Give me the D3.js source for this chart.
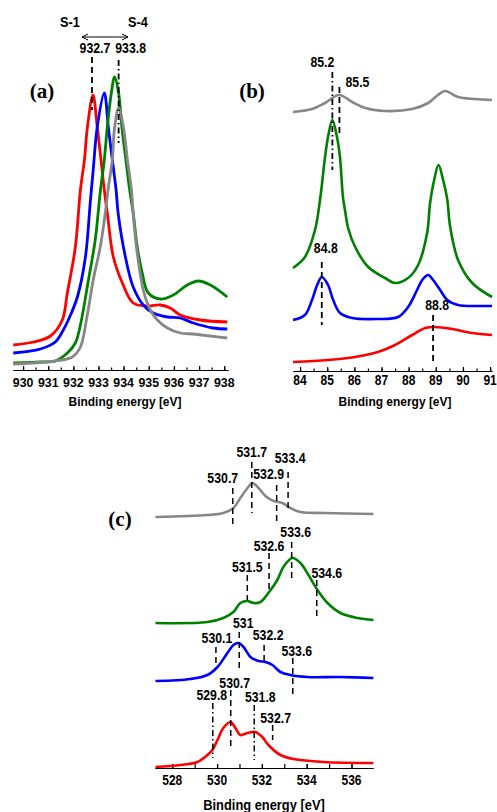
<!DOCTYPE html>
<html>
<head>
<meta charset="utf-8">
<script src="https://cdn.jsdelivr.net/npm/d3@7"></script>
<style>
  body { margin: 0; background: #fff; }
  svg { display: block; }
</style>
</head>
<body>
<div class="chart"></div>
<script>
// ---------- data (binding energy [eV], intensity a.u.) ----------

// panel (a)
var aTicks = [930, 931, 932, 933, 934, 935, 936, 937, 938];
var aRed = [[929.61,25],[930.41,28],[931.09,34],[931.56,50],[931.76,77],[932.08,123],[932.28,180],[932.44,210],[932.56,243],[932.78,275],[932.95,243],[933.10,210],[933.23,180],[933.35,157],[933.59,113],[933.95,87],[934.38,67],[934.94,64],[935.46,65],[935.85,62],[936.25,55],[937.05,50],[938.12,48]];
var aBlue = [[929.61,17],[930.69,21],[931.28,28],[931.60,40],[931.80,50],[932.16,73],[932.48,113],[932.68,170],[932.79,200],[932.95,243],[933.23,277],[933.39,243],[933.55,210],[933.70,180],[933.78,157],[934.07,113],[934.38,83],[934.78,65],[935.18,57],[935.74,53],[936.25,52],[936.77,47],[937.56,42],[938.12,41]];
var aGreen = [[929.61,7],[930.69,8],[931.28,9],[931.76,17],[932.08,27],[932.28,45],[932.60,90],[932.87,130],[933.07,178],[933.23,210],[933.35,243],[933.51,277],[933.64,293],[933.80,277],[933.93,243],[934.09,210],[934.24,180],[934.38,157],[934.54,123],[934.74,97],[934.98,77],[935.46,71],[935.98,75],[936.53,85],[936.97,89],[937.45,85],[938.12,73]];
var aGray = [[929.61,6],[931.28,9],[931.96,13],[932.28,23],[932.54,53],[932.79,90],[933.07,123],[933.27,157],[933.39,182],[933.55,210],[933.63,240],[933.80,262],[933.99,243],[934.15,210],[934.31,180],[934.40,150],[934.54,117],[934.78,80],[935.06,60],[935.34,50],[935.74,42],[936.25,37],[936.77,36],[937.45,34],[938.12,32]];
var aMarks = [932.74, 933.80];
var aMarkText = ["932.7", "933.8"];

// panel (b)
var bTicks = [84, 85, 86, 87, 88, 89, 90, 91];
var bGray = [[83.74,259],[84.44,262],[84.92,268],[85.44,276],[85.92,269],[86.40,263],[87.13,260],[88.13,262],[88.72,268],[89.08,276],[89.34,280],[89.82,274],[90.45,272],[91.07,271]];
var bGreen = [[83.74,103],[84.18,114],[84.55,141],[84.74,172],[84.92,214],[85.03,234],[85.19,251],[85.36,234],[85.47,214],[85.58,174],[85.66,160],[85.77,143],[86.03,124],[86.51,104],[87.13,93],[87.50,88],[87.98,93],[88.35,106],[88.68,138],[88.79,168],[88.94,191],[89.10,206],[89.27,191],[89.42,172],[89.53,144],[89.82,111],[90.34,88],[91.07,74]];
var bBlue = [[83.74,51],[84.18,56],[84.44,71],[84.63,86],[84.80,94],[85.03,86],[85.22,71],[85.47,58],[85.92,53],[86.87,52],[87.61,54],[87.98,64],[88.31,81],[88.50,91],[88.72,96],[88.90,91],[89.16,81],[89.42,71],[89.82,66],[90.56,65],[91.07,65]];
var bRed = [[83.74,9],[85.03,11],[86.03,14],[86.87,19],[87.50,26],[88.13,36],[88.61,43],[88.97,44],[89.60,42],[90.34,38],[91.07,36]];
var bMarks = [85.19, 85.45, 84.80, 88.90];
var bMarkText = ["85.2", "85.5", "84.8", "88.8"];

// panel (c)
var cTicks = [528, 530, 532, 534, 536];
var cMinor = [528, 529, 530, 531, 532, 533, 534, 535, 536];
var cGray = [[527.25,251],[529.57,253],[530.28,255],[530.73,260],[531.04,270],[531.36,280],[531.58,285],[531.85,280],[532.16,272],[532.52,267],[532.92,265],[533.27,260],[533.72,256],[534.75,255],[536.98,254]];
var cGreen = [[527.25,145],[529.57,146],[530.28,150],[530.73,156],[531.04,165],[531.36,167],[531.62,165],[531.94,166],[532.29,175],[532.69,188],[532.96,201],[533.36,210],[533.72,205],[534.08,193],[534.48,178],[534.93,165],[535.51,155],[536.26,150],[536.98,148]];
var cBlue = [[527.25,87],[528.81,89],[529.57,93],[530.02,101],[530.46,115],[530.73,123],[530.95,125],[531.18,121],[531.49,111],[531.85,107],[532.16,106],[532.47,103],[532.83,96],[533.27,93],[534.03,91],[535.50,91],[536.98,90]];
var cRed = [[527.25,1],[528.37,3],[529.12,6],[529.57,13],[529.79,18],[530.02,28],[530.28,40],[530.60,46],[530.82,40],[531.04,33],[531.36,35],[531.71,36],[532.02,31],[532.29,23],[532.83,13],[533.41,9],[534.75,6],[536.98,5]];
var cGrayMarks = [530.70, 531.55, 532.66, 533.17];
var cGrayText = ["530.7", "531.7", "532.9", "533.4"];
var cGreenMarks = [531.35, 532.32, 533.33, 534.45];
var cGreenText = ["531.5", "532.6", "533.6", "534.6"];
var cBlueMarks = [529.95, 530.99, 532.10, 533.38];
var cBlueText = ["530.1", "531", "532.2", "533.6"];
var cRedMarks = [529.81, 530.61, 531.66, 532.48];
var cRedText = ["529.8", "530.7", "531.8", "532.7"];

// ---------- drawing ----------
var RED = "#ff0000", BLUE = "#0000ff", GREEN = "#008000", GRAY = "#878787";
var SANS = "'Liberation Sans', Arial, sans-serif";
var SERIF = "'Liberation Serif', 'Times New Roman', serif";

var svg = d3.select(".chart")
    .append("svg")
    .attr("width", 497)
    .attr("height", 812);

// bold, slightly condensed text like the figure
function txt(x, y, s, size, sx, family) {
    svg.append("text")
        .attr("transform", `translate(${x},${y}) scale(${sx},1)`)
        .attr("text-anchor", "middle")
        .attr("font-family", family || SANS)
        .attr("font-weight", "bold")
        .attr("font-size", size)
        .attr("fill", "#000")
        .text(s);
}

function curve(x, y, pts, color, w) {
    var line = d3.line()
        .x(d => x(d[0]))
        .y(d => y(d[1]))
        .curve(d3.curveCatmullRom.alpha(0.5));
    svg.append("path")
        .datum(pts)
        .attr("d", line)
        .attr("fill", "none")
        .attr("stroke", color)
        .attr("stroke-width", w)
        .attr("stroke-linejoin", "round");
}

function axis(x, y0, major, minor, bigTick, smallTick) {
    var g = svg.append("g").attr("transform", `translate(0,${y0})`);
    g.append("g").call(d3.axisBottom(x).tickValues(minor).tickSizeInner(-smallTick).tickSizeOuter(0).tickFormat(""));
    g.append("g").call(d3.axisBottom(x).tickValues(major).tickSizeInner(-bigTick).tickSizeOuter(0).tickFormat(""));
    g.selectAll("path, line").attr("stroke", "#000").attr("stroke-width", 1.2);
}

// guide line from intensity i1 down to i2
function guide(x, y, v, i1, i2, dash, w) {
    svg.append("line")
        .attr("x1", x(v)).attr("x2", x(v))
        .attr("y1", y(i1)).attr("y2", y(i2))
        .attr("stroke", "#000")
        .attr("stroke-width", w)
        .attr("stroke-dasharray", dash);
}

var DASH = "6,4";
var DASHDOT = "6,3,1.5,3";

// ----- panel (a) -----
var xA = d3.scaleLinear().domain([929.6, 938.15]).range([13, 228]);
var yA = d3.scaleLinear().domain([0, 300]).range([370, 70]);

axis(xA, 370, aTicks, d3.range(929.5, 938.01, 0.5).filter(v => v >= 929.6), 4, 2.5);
aTicks.forEach(v => txt(xA(v), 386.5, v, 13, 0.95));
txt(125, 406, "Binding energy [eV]", 13, 0.92);

curve(xA, yA, aRed, RED, 2.8);
curve(xA, yA, aBlue, BLUE, 2.8);
curve(xA, yA, aGreen, GREEN, 2.8);
curve(xA, yA, aGray, GRAY, 2.8);

// marker lines + labels
var aLay = [{top: 313, bot: 260, dx: 3, ty: 317, dash: DASH},
            {top: 310, bot: 227, dx: 12, ty: 317, dash: DASHDOT}];
aMarks.forEach(function(v, i) {
    guide(xA, yA, v, aLay[i].top, aLay[i].bot, aLay[i].dash, 1.8);
    txt(xA(v) + aLay[i].dx, yA(aLay[i].ty), aMarkText[i], 15, 0.82);
});
txt(70, 26.5, "S-1", 15, 0.85);
txt(138, 26.5, "S-4", 15, 0.85);
// double arrow S-1 <-> S-4
svg.append("line").attr("x1", 82).attr("x2", 128).attr("y1", 37).attr("y2", 37)
    .attr("stroke", "#000").attr("stroke-width", 1);
svg.append("path").attr("d", "M88,34 L82,37 L88,40 M122,34 L128,37 L122,40")
    .attr("fill", "none").attr("stroke", "#000").attr("stroke-width", 1);
txt(42, 98, "(a)", 21, 1.0, SERIF);

// ----- panel (b) -----
var xB = d3.scaleLinear().domain([83.74, 91.07]).range([293, 492]);
var yB = d3.scaleLinear().domain([0, 300]).range([371, 71]);

axis(xB, 371, bTicks, d3.range(84, 91.01, 0.5), 4, 2.5);
bTicks.forEach(v => txt(xB(v), 385, v, 14, 0.86));
txt(395, 406, "Binding energy [eV]", 13, 0.92);

curve(xB, yB, bGray, GRAY, 2.6);
curve(xB, yB, bGreen, GREEN, 2.6);
curve(xB, yB, bBlue, BLUE, 2.6);
curve(xB, yB, bRed, RED, 2.6);

var bLay = [{top: 299, bot: 201, dx: -10, ty: 304, dash: DASHDOT},
            {top: 284, bot: 238, dx: 18, ty: 284, dash: DASH},
            {top: 109, bot: 46, dx: 4, ty: 118, dash: DASH},
            {top: 56, bot: 8, dx: 4, ty: 61, dash: DASH}];
bMarks.forEach(function(v, i) {
    guide(xB, yB, v, bLay[i].top, bLay[i].bot, bLay[i].dash, 1.8);
    txt(xB(v) + bLay[i].dx, yB(bLay[i].ty), bMarkText[i], 15, 0.82);
});
txt(252, 98, "(b)", 21, 1.0, SERIF);

// ----- panel (c) -----
var xC = d3.scaleLinear().domain([527.23, 536.96]).range([155, 373]);
var yC = d3.scaleLinear().domain([0, 300]).range([768, 468]);

axis(xC, 768, cTicks, cMinor, 4, 4);
cTicks.forEach(v => txt(xC(v), 785, v, 15, 0.8));
txt(264, 810, "Binding energy [eV]", 14, 0.92);

curve(xC, yC, cGray, GRAY, 2.6);
curve(xC, yC, cGreen, GREEN, 2.6);
curve(xC, yC, cBlue, BLUE, 2.6);
curve(xC, yC, cRed, RED, 2.6);

function marks(vals, texts, lay) {
    vals.forEach(function(v, i) {
        guide(xC, yC, v, lay[i][0], lay[i][1], lay[i][4] || DASH, 1.5);
        txt(xC(v) + lay[i][2], yC(lay[i][3]), texts[i], 15, 0.82);
    });
}
// [top, bottom, label dx, label baseline]
marks(cGrayMarks, cGrayText, [[280, 243, -10, 285], [306, 255, 0, 311], [283, 245, -8, 289], [296, 258, 2, 305]]);
marks(cGreenMarks, cGreenText, [[193, 168, 0, 196], [215, 175, 0, 217], [226, 188, 4, 231], [188, 149, 10, 190]]);
marks(cBlueMarks, cBlueText, [[121, 101, 1, 125], [136, 100, 4, 140], [123, 103, 4, 128], [110, 71, 4, 112]]);
marks(cRedMarks, cRedText, [[65, 10, -1, 68, DASHDOT], [78, 18, 4, 80], [63, 8, 6, 66, DASHDOT], [43, 28, 3, 45]]);

txt(120, 526, "(c)", 21, 1.0, SERIF);
</script>
</body>
</html>
